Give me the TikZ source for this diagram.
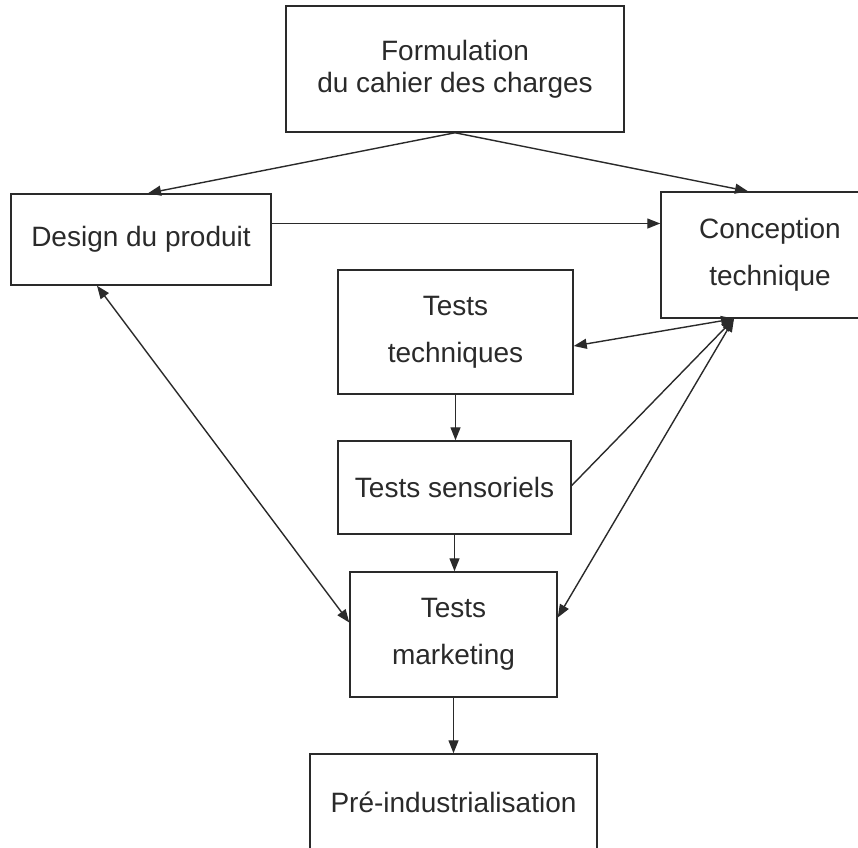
\documentclass[tikz,border=0pt]{standalone}
\usepackage{fontspec}
\setmainfont{Liberation Sans}
\usetikzlibrary{arrows.meta}
\definecolor{ink}{HTML}{2A2A2A}
\begin{document}
\begin{tikzpicture}[x=1pt,y=-1pt,
  box/.style={draw=ink,line width=1.5pt,rectangle,inner sep=0pt,align=center,
    text=ink,font=\fontsize{28}{47}\selectfont},
  tip/.style={Triangle[length=13pt,width=10pt]},
  link/.style={draw=ink,line width=1.4pt,-{Triangle[length=13pt,width=10pt]}},
  both/.style={draw=ink,line width=1.4pt,{Triangle[length=13pt,width=10pt]}-{Triangle[length=13pt,width=10pt]}}]
\useasboundingbox (0,0) rectangle (858,847);
\clip (0,0) rectangle (858,847);

% boxes
\node[box,minimum width=338pt,minimum height=126pt,font=\fontsize{28}{32}\selectfont] (F) at (455,69)
  {Formulation\\du cahier des charges};
\node[box,minimum width=260pt,minimum height=91pt] (D) at (141,239.5) {Design du produit};
\node[box,minimum width=218pt,minimum height=126pt] (C) at (770,255) {Conception\\technique};
\node[box,minimum width=235pt,minimum height=124pt] (TT) at (455.5,332) {Tests\\techniques};
\node[box,minimum width=233pt,minimum height=93pt] (TS) at (454.5,487.5) {Tests sensoriels};
\node[box,minimum width=207pt,minimum height=125pt] (TM) at (453.5,634.5) {Tests\\marketing};
\node[box,minimum width=287pt,minimum height=96pt] (P) at (453.5,802) {Pré-industrialisation};

% connector anchors
\coordinate (hub) at ([xshift=-36pt]C.south);
\coordinate (dh) at ([yshift=16pt]D.east);

% connectors
\draw[link] (F.south) -- ([xshift=7pt]D.north);
\draw[link] (F.south) -- ([xshift=-22pt]C.north);
\draw[link] (dh) -- (dh -| C.west);
\draw[both] ([yshift=-14pt]TT.east) -- (hub);
\draw[link] ([yshift=2pt]TS.east) -- (hub);
\draw[both] ([yshift=17pt]TM.east) -- (hub);
\draw[both] ([xshift=-44pt]D.south) -- ([yshift=12pt]TM.west);
\draw[link] (TT.south) -- (TT.south |- TS.north);
\draw[link] (TS.south) -- (TS.south |- TM.north);
\draw[link] (TM.south) -- (TM.south |- P.north);
\end{tikzpicture}
\end{document}
